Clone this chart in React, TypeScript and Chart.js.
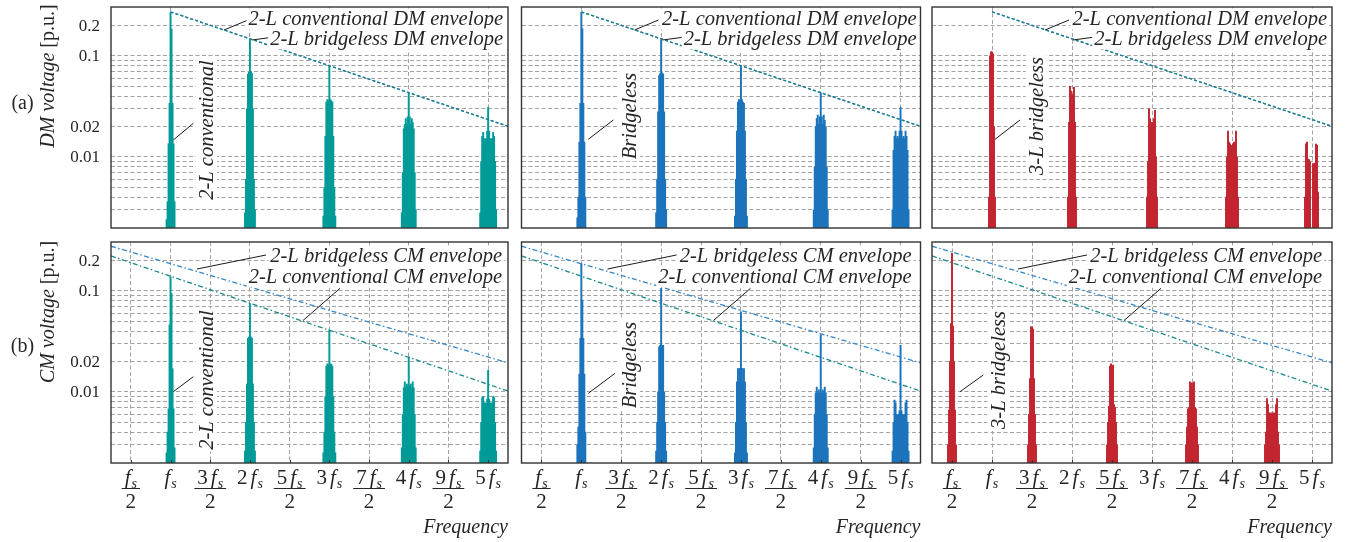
import React, { useEffect, useRef } from 'react';
import { Chart, registerables } from 'chart.js';

Chart.register(...registerables);

const PAGE_W = 1353;
const PAGE_H = 542;
const SERIF = '"Liberation Serif", "DejaVu Serif", serif';

// Frequency axis in multiples of the switching frequency fs
const FREQ_MIN = 0.25;
const FREQ_MAX = 5.25;
// spacing of neighbouring sideband lines inside one carrier cluster
const SIDEBAND_STEP = 0.0125;

// Voltage axis in p.u.
const VOLT_MIN = 0.00198;
const VOLT_MAX = 0.305;

const voltGridValues = [0.2, 0.1, 0.09, 0.08, 0.07, 0.06, 0.05, 0.04, 0.03, 0.02, 0.01, 0.009, 0.008, 0.007, 0.006, 0.005, 0.004, 0.003];
const voltTickValues = [0.2, 0.1, 0.02, 0.01];
const voltTickLabels = ['0.2', '0.1', '0.02', '0.01'];

const freqTickValues = [0.5, 1, 1.5, 2, 2.5, 3, 3.5, 4, 4.5, 5];
const freqTickCoefficients = ['', '', '3', '2', '5', '3', '7', '4', '9', '5'];
const freqTickDenominators = ['2', '', '2', '', '2', '', '2', '', '2', ''];
const dmGridFreqs = [1, 2, 3, 4, 5];

const carrierHarmonics = [1, 2, 3, 4, 5];
const carrierHalfHarmonics = [0.5, 1.5, 2.5, 3.5, 4.5];

// Each cluster lists its sideband amplitudes from low to high frequency around the carrier.
// DM voltage, 2-L conventional
const dmConventional1 = [0.0024, 0.0036, 0.0135, 0.034, 0.27, 0.185, 0.034, 0.0135, 0.0036];
const dmConventional2 = [0.0028, 0.006, 0.03, 0.066, 0.069, 0.145, 0.07, 0.067, 0.03, 0.006, 0.003];
const dmConventional3 = [0.0026, 0.005, 0.016, 0.035, 0.037, 0.036, 0.081, 0.037, 0.036, 0.035, 0.016, 0.005, 0.0026];
const dmConventional4 = [0.0028, 0.007, 0.019, 0.021, 0.024, 0.021, 0.025, 0.043, 0.025, 0.021, 0.024, 0.022, 0.019, 0.007, 0.003];
const dmConventional5 = [0.0028, 0.009, 0.016, 0.0175, 0.015, 0.0152, 0.015, 0.018, 0.031, 0.018, 0.015, 0.0152, 0.015, 0.0175, 0.016, 0.009, 0.003];

// DM voltage, 2-L bridgeless
const dmBridgeless1 = [0.0025, 0.004, 0.014, 0.034, 0.27, 0.187, 0.034, 0.014, 0.004];
const dmBridgeless2 = [0.0028, 0.006, 0.028, 0.064, 0.067, 0.145, 0.068, 0.066, 0.028, 0.006, 0.003];
const dmBridgeless3 = [0.0026, 0.006, 0.018, 0.035, 0.037, 0.036, 0.08, 0.037, 0.035, 0.034, 0.018, 0.006, 0.0026];
const dmBridgeless4 = [0.003, 0.008, 0.02, 0.024, 0.026, 0.021, 0.025, 0.043, 0.025, 0.021, 0.026, 0.023, 0.02, 0.008, 0.003];
const dmBridgeless5 = [0.003, 0.0116, 0.016, 0.018, 0.0152, 0.016, 0.0152, 0.018, 0.031, 0.018, 0.0152, 0.016, 0.0152, 0.018, 0.016, 0.0116, 0.003];

// DM voltage, 3-L bridgeless
const dmThreeLevel1 = [0.004, 0.1, 0.11, 0.11, 0.105, 0.02, 0.004];
const dmThreeLevel2 = [0.004, 0.022, 0.05, 0.045, 0.032, 0.042, 0.049, 0.022, 0.004];
const dmThreeLevel3 = [0.004, 0.009, 0.03, 0.024, 0.02, 0.022, 0.021, 0.024, 0.029, 0.01, 0.004];
const dmThreeLevel4 = [0.004, 0.01, 0.018, 0.014, 0.0135, 0.013, 0.012, 0.0135, 0.014, 0.0137, 0.018, 0.01, 0.004];
const dmThreeLevel5 = [0.004, 0.0135, 0.014, 0.0095, 0.0094, 0.009, null, null, 0.0086, 0.0085, 0.0087, 0.0134, 0.013, 0.0045, null];

// CM voltage, 2-L conventional
const cmConventional1 = [0.0025, 0.004, 0.0068, 0.046, 0.138, 0.094, 0.017, 0.0068, 0.0028];
const cmConventional2 = [0.0026, 0.005, 0.012, 0.034, 0.035, 0.075, 0.035, 0.034, 0.012, 0.005, 0.0026];
const cmConventional3 = [0.0025, 0.004, 0.009, 0.018, 0.019, 0.0185, 0.041, 0.019, 0.0188, 0.018, 0.009, 0.004, 0.0025];
const cmConventional4 = [0.0028, 0.006, 0.011, 0.0126, 0.011, 0.012, 0.0115, 0.0222, 0.0115, 0.012, 0.011, 0.0126, 0.011, 0.006, 0.0028];
const cmConventional5 = [0.0026, 0.005, 0.0088, 0.009, 0.0077, 0.0078, 0.0077, 0.0085, 0.0164, 0.0085, 0.0077, 0.0078, 0.0077, 0.009, 0.0088, 0.005, 0.0026];

// CM voltage, 2-L bridgeless
const cmBridgeless1 = [0.003, 0.0045, 0.015, 0.034, 0.187, 0.081, 0.034, 0.015, 0.004];
const cmBridgeless2 = [0.0026, 0.005, 0.01, 0.028, 0.029, 0.106, 0.029, 0.029, 0.01, 0.005, 0.0026];
const cmBridgeless3 = [0.0025, 0.005, 0.0126, 0.017, 0.0126, 0.0171, 0.062, 0.0171, 0.0126, 0.017, 0.0126, 0.005, 0.0025];
const cmBridgeless4 = [0.0028, 0.006, 0.0098, 0.0112, 0.0098, 0.0105, 0.0098, 0.0365, 0.0098, 0.0105, 0.0098, 0.0112, 0.0098, 0.006, 0.0028];
const cmBridgeless5 = [0.0026, 0.005, 0.0083, 0.0078, 0.006, 0.0059, 0.006, 0.0065, 0.029, 0.0065, 0.006, 0.0059, 0.006, 0.0078, 0.0083, 0.005, 0.0026];

// CM voltage, 3-L bridgeless (clusters sit at odd multiples of fs/2)
const cmThreeLevel1 = [0.003, 0.0066, 0.02, 0.0475, 0.235, 0.045, 0.02, 0.0066, 0.003];
const cmThreeLevel2 = [0.003, 0.006, 0.0136, 0.044, 0.044, 0.042, 0.0136, 0.006, 0.003];
const cmThreeLevel3 = [0.003, 0.005, 0.0072, 0.018, 0.019, 0.0172, 0.0185, 0.0075, 0.007, 0.005, 0.003];
const cmThreeLevel4 = [0.003, 0.0045, 0.0068, 0.007, 0.0126, 0.011, 0.0123, 0.0105, 0.0126, 0.007, 0.0068, 0.0045, 0.003];
const cmThreeLevel5 = [0.003, 0.004, 0.0086, 0.0075, 0.006, 0.0062, 0.0058, 0.0062, 0.0058, 0.0062, 0.006, 0.0075, 0.0086, 0.004, 0.003];

// Envelopes (straight lines on the log axis)
const dmEnvelopeFreq = [1, 5.25];
const dmEnvelopeConventional = [0.273, 0.0201];
const dmEnvelopeBridgeless = [0.273, 0.0201];
const cmEnvelopeFreq = [0.25, 5.25];
const cmEnvelopeBridgeless = [0.277, 0.0194];
const cmEnvelopeConventional = [0.222, 0.0102];

const TEAL = '#009b98';
const BLUE = '#1c74bc';
const RED = '#c2262f';
const DM_ENV_CONV = '#1b7f8c';
const DM_ENV_BL = '#2a7fc0';
const CM_ENV_CONV = '#17898a';
const CM_ENV_BL = '#3286c9';
const GRID = '#a2a2a2';
const FRAME = '#333333';
const INK = '#262626';

const COLS = [
  { left: 111, right: 508 },
  { left: 521.5, right: 920.5 },
  { left: 932, right: 1332 },
];
const ROWS = [
  { top: 7, bottom: 228 },
  { top: 242, bottom: 463 },
];

type Leader = [number, number, number, number];
type PanelSpec = {
  key: string;
  col: number;
  row: number;
  centres: number[];
  clusters: (number | null)[][];
  color: string;
  seriesName: string;
  rotatedLabel: string;
  rotatedAt: [number, number];
  rotatedLeader: Leader;
  labelRight: number;
};

const panels: PanelSpec[] = [
  {
    key: 'dm-conv', col: 0, row: 0, centres: carrierHarmonics,
    clusters: [dmConventional1, dmConventional2, dmConventional3, dmConventional4, dmConventional5],
    color: TEAL, seriesName: '2-L conventional', rotatedLabel: '2-L conventional',
    rotatedAt: [96, 123], rotatedLeader: [62.3, 133, 82.3, 116.3], labelRight: -5,
  },
  {
    key: 'dm-bl', col: 1, row: 0, centres: carrierHarmonics,
    clusters: [dmBridgeless1, dmBridgeless2, dmBridgeless3, dmBridgeless4, dmBridgeless5],
    color: BLUE, seriesName: 'Bridgeless', rotatedLabel: 'Bridgeless',
    rotatedAt: [108.5, 109], rotatedLeader: [66.8, 132.3, 91.8, 113], labelRight: -4,
  },
  {
    key: 'dm-3l', col: 2, row: 0, centres: carrierHarmonics,
    clusters: [dmThreeLevel1, dmThreeLevel2, dmThreeLevel3, dmThreeLevel4, dmThreeLevel5],
    color: RED, seriesName: '3-L bridgeless', rotatedLabel: '3-L bridgeless',
    rotatedAt: [104.7, 109], rotatedLeader: [63, 132.3, 88, 113], labelRight: -5,
  },
  {
    key: 'cm-conv', col: 0, row: 1, centres: carrierHarmonics,
    clusters: [cmConventional1, cmConventional2, cmConventional3, cmConventional4, cmConventional5],
    color: TEAL, seriesName: '2-L conventional', rotatedLabel: '2-L conventional',
    rotatedAt: [96, 138], rotatedLeader: [62.3, 149.7, 82.3, 134.7], labelRight: -6,
  },
  {
    key: 'cm-bl', col: 1, row: 1, centres: carrierHarmonics,
    clusters: [cmBridgeless1, cmBridgeless2, cmBridgeless3, cmBridgeless4, cmBridgeless5],
    color: BLUE, seriesName: 'Bridgeless', rotatedLabel: 'Bridgeless',
    rotatedAt: [108.5, 123], rotatedLeader: [66.8, 151.3, 93.5, 131.3], labelRight: -9,
  },
  {
    key: 'cm-3l', col: 2, row: 1, centres: carrierHalfHarmonics,
    clusters: [cmThreeLevel1, cmThreeLevel2, cmThreeLevel3, cmThreeLevel4, cmThreeLevel5],
    color: RED, seriesName: '3-L bridgeless', rotatedLabel: '3-L bridgeless',
    rotatedAt: [66.3, 128], rotatedLeader: [28, 149.7, 51.3, 133], labelRight: -10,
  },
];

// Envelope captions per row: text and baseline below the plot top; leader lines relative to the plot corner
const envelopeCaptions = [
  [
    { text: '2-L conventional DM envelope', dy: 17.5 },
    { text: '2-L bridgeless DM envelope', dy: 37.5 },
  ],
  [
    { text: '2-L bridgeless CM envelope', dy: 19.5 },
    { text: '2-L conventional CM envelope', dy: 40.5 },
  ],
];
const envelopeLeaders: Leader[][] = [
  [[113, 23, 137, 13], [141, 33, 161, 30.3]],
  [[86, 27, 155, 13], [192, 78.5, 229, 46.3]],
];
const axisTitles = ['DM voltage', 'CM voltage'];
const rowTags = ['(a)', '(b)'];
const axisTitleDy = [69, 70];
const rowTagDy = [97, 105];

const font = (size: number, italic = false) => `${italic ? 'italic ' : ''}${size}px ${SERIF}`;

function clusterPoints(centre: number, values: (number | null)[]) {
  const half = (values.length - 1) / 2;
  return values
    .map((v, i) => ({ x: centre + (i - half) * SIDEBAND_STEP, y: v }))
    .filter((p) => p.y !== null);
}

function zip(xs: number[], ys: number[]) {
  return xs.map((x, i) => ({ x, y: ys[i] }));
}

function textWithBackground(ctx: CanvasRenderingContext2D, text: string, x: number, y: number, align: 'left' | 'right' | 'center', size: number, italic: boolean) {
  ctx.font = font(size, italic);
  const w = ctx.measureText(text).width;
  const x0 = align === 'right' ? x - w : align === 'center' ? x - w / 2 : x;
  ctx.fillStyle = '#ffffff';
  ctx.fillRect(x0 - 2, y - size * 0.78, w + 4, size * 1.02);
  ctx.fillStyle = INK;
  ctx.textAlign = 'left';
  ctx.textBaseline = 'alphabetic';
  ctx.fillText(text, x0, y);
}

function strokeLine(ctx: CanvasRenderingContext2D, x1: number, y1: number, x2: number, y2: number) {
  ctx.beginPath();
  ctx.moveTo(x1, y1);
  ctx.lineTo(x2, y2);
  ctx.stroke();
}

// draws "<coef> f_s" centred at cx; returns its width
function freqTermWidth(ctx: CanvasRenderingContext2D, coef: string, big: number, small: number) {
  ctx.font = font(big);
  const wc = coef ? ctx.measureText(coef).width + 3 : 0;
  ctx.font = font(big, true);
  const wf = ctx.measureText('f').width;
  ctx.font = font(small, true);
  const ws = ctx.measureText('s').width;
  return { wc, wf, ws, total: wc + wf + 1 + ws };
}

function drawFreqTerm(ctx: CanvasRenderingContext2D, coef: string, cx: number, baseline: number) {
  const big = 21;
  const small = 14;
  const m = freqTermWidth(ctx, coef, big, small);
  let x = cx - m.total / 2;
  ctx.fillStyle = INK;
  ctx.textAlign = 'left';
  ctx.textBaseline = 'alphabetic';
  if (coef) {
    ctx.font = font(big);
    ctx.fillText(coef, x, baseline);
    x += m.wc;
  }
  ctx.font = font(big, true);
  ctx.fillText('f', x, baseline);
  x += m.wf + 1;
  ctx.font = font(small, true);
  ctx.fillText('s', x, baseline + 4);
  return m.total;
}

function makeDecor(p: PanelSpec) {
  return {
    id: 'decor-' + p.key,
    afterDraw(chart: any) {
      const ctx: CanvasRenderingContext2D = chart.ctx;
      const a = chart.chartArea;
      const xs = chart.scales.x;
      const ys = chart.scales.y;
      ctx.save();

      // inward ticks on the frequency axis
      if (p.row === 1) {
        ctx.strokeStyle = FRAME;
        ctx.lineWidth = 1;
        freqTickValues.forEach((v) => {
          const px = Math.round(xs.getPixelForValue(v)) + 0.5;
          strokeLine(ctx, px, a.bottom, px, a.bottom - 3);
        });
      }

      // envelope captions and leaders
      ctx.strokeStyle = '#1a1a1a';
      ctx.lineWidth = 1;
      envelopeLeaders[p.row].forEach(([x1, y1, x2, y2]) => strokeLine(ctx, a.left + x1, a.top + y1, a.left + x2, a.top + y2));
      envelopeCaptions[p.row].forEach((c) => textWithBackground(ctx, c.text, a.right + p.labelRight, a.top + c.dy, 'right', 20.5, true));

      // rotated series caption
      {
        const [rx, ry] = p.rotatedAt;
        ctx.save();
        ctx.translate(a.left + rx, a.top + ry);
        ctx.rotate(-Math.PI / 2);
        ctx.font = font(20.5, true);
        const w = ctx.measureText(p.rotatedLabel).width;
        ctx.fillStyle = '#ffffff';
        ctx.fillRect(-w / 2 - 2, -11, w + 4, 21);
        ctx.fillStyle = INK;
        ctx.textAlign = 'center';
        ctx.textBaseline = 'middle';
        ctx.fillText(p.rotatedLabel, 0, 1);
        ctx.restore();
        const [x1, y1, x2, y2] = p.rotatedLeader;
        ctx.strokeStyle = '#1a1a1a';
        ctx.lineWidth = 1;
        strokeLine(ctx, a.left + x1, a.top + y1, a.left + x2, a.top + y2);
      }

      // frame
      ctx.strokeStyle = FRAME;
      ctx.lineWidth = 1.4;
      ctx.strokeRect(a.left, a.top, a.right - a.left, a.bottom - a.top);

      // voltage axis labelling on the first column
      if (p.col === 0) {
        ctx.fillStyle = INK;
        ctx.font = font(17);
        ctx.textAlign = 'right';
        ctx.textBaseline = 'middle';
        voltTickValues.forEach((v, i) => ctx.fillText(voltTickLabels[i], a.left - 11, ys.getPixelForValue(v) + 1));

        const titleItalic = axisTitles[p.row] + ' ';
        const titleUnit = '[p.u.]';
        ctx.font = font(20, true);
        const w1 = ctx.measureText(titleItalic).width;
        ctx.font = font(20);
        const w2 = ctx.measureText(titleUnit).width;
        ctx.save();
        ctx.translate(a.left - 62, a.top + axisTitleDy[p.row]);
        ctx.rotate(-Math.PI / 2);
        ctx.textAlign = 'left';
        ctx.textBaseline = 'middle';
        ctx.font = font(20, true);
        ctx.fillText(titleItalic, -(w1 + w2) / 2, 0);
        ctx.font = font(20);
        ctx.fillText(titleUnit, -(w1 + w2) / 2 + w1, 0);
        ctx.restore();

        ctx.font = font(20);
        ctx.textAlign = 'center';
        ctx.textBaseline = 'middle';
        ctx.fillText(rowTags[p.row], a.left - 88.5, a.top + rowTagDy[p.row]);
      }

      // frequency axis labelling on the bottom row
      if (p.row === 1) {
        freqTickValues.forEach((v, i) => {
          const cx = xs.getPixelForValue(v);
          const width = drawFreqTerm(ctx, freqTickCoefficients[i], cx, a.bottom + 21);
          const den = freqTickDenominators[i];
          if (den) {
            ctx.strokeStyle = INK;
            ctx.lineWidth = 1;
            strokeLine(ctx, cx - width / 2 - 3, a.bottom + 25.5, cx + width / 2 + 3, a.bottom + 25.5);
            ctx.font = font(21);
            ctx.fillStyle = INK;
            ctx.textAlign = 'center';
            ctx.textBaseline = 'alphabetic';
            ctx.fillText(den, cx, a.bottom + 45);
          }
        });
        ctx.font = font(20, true);
        ctx.fillStyle = INK;
        ctx.textAlign = 'right';
        ctx.textBaseline = 'alphabetic';
        ctx.fillText('Frequency', a.right, a.bottom + 70);
      }

      ctx.restore();
    },
  };
}

function buildConfig(p: PanelSpec): any {
  const col = COLS[p.col];
  const row = ROWS[p.row];
  const bars = p.clusters.map((values, k) => ({
    type: 'bar',
    label: `${p.seriesName} ${p.centres[k]} fs`,
    data: clusterPoints(p.centres[k], values),
    backgroundColor: p.color,
    borderWidth: 0,
    barThickness: 1.3,
    grouped: false,
    order: 2,
  }));
  const dashDot = [5, 2.5, 1.5, 2.5];
  const lines = p.row === 0
    ? [
        { label: '2-L bridgeless DM envelope', data: zip(dmEnvelopeFreq, dmEnvelopeBridgeless), color: DM_ENV_BL, dash: [3, 2.2], order: 1 },
        { label: '2-L conventional DM envelope', data: zip(dmEnvelopeFreq, dmEnvelopeConventional), color: DM_ENV_CONV, dash: [3, 2.2], order: 0 },
      ]
    : [
        { label: '2-L bridgeless CM envelope', data: zip(cmEnvelopeFreq, cmEnvelopeBridgeless), color: CM_ENV_BL, dash: dashDot, order: 0 },
        { label: '2-L conventional CM envelope', data: zip(cmEnvelopeFreq, cmEnvelopeConventional), color: CM_ENV_CONV, dash: dashDot, order: 1 },
      ];
  const lineSets = lines.map((l) => ({
    type: 'line',
    label: l.label,
    data: l.data,
    borderColor: l.color,
    borderWidth: 1.3,
    borderDash: l.dash,
    pointRadius: 0,
    fill: false,
    tension: 0,
    order: l.order,
  }));
  const gridFreqs = p.row === 0 ? dmGridFreqs : freqTickValues;

  return {
    type: 'bar',
    data: { datasets: [...lineSets, ...bars] },
    options: {
      animation: false,
      responsive: false,
      maintainAspectRatio: false,
      events: [],
      layout: {
        padding: { left: col.left, right: PAGE_W - col.right, top: row.top, bottom: PAGE_H - row.bottom },
      },
      plugins: { legend: { display: false }, tooltip: { enabled: false } },
      scales: {
        x: {
          type: 'linear',
          min: FREQ_MIN,
          max: FREQ_MAX,
          offset: false,
          ticks: { display: false },
          grid: { offset: false, drawTicks: false, color: GRID, lineWidth: 1 },
          border: { display: false, dash: [4, 2.5] },
          afterBuildTicks: (s: any) => { s.ticks = gridFreqs.map((v) => ({ value: v })); },
          afterFit: (s: any) => { s.height = 0; },
        },
        y: {
          type: 'logarithmic',
          min: VOLT_MIN,
          max: VOLT_MAX,
          ticks: { display: false },
          grid: { drawTicks: false, color: GRID, lineWidth: 1 },
          border: { display: false, dash: [4, 2.5] },
          afterBuildTicks: (s: any) => { s.ticks = voltGridValues.map((v) => ({ value: v })); },
          afterFit: (s: any) => { s.width = 0; },
        },
      },
    },
    plugins: [makeDecor(p)],
  };
}

function SpectrumPanel({ spec }: { spec: PanelSpec }) {
  const ref = useRef<HTMLCanvasElement>(null);
  useEffect(() => {
    if (!ref.current) return;
    const chart = new Chart(ref.current, buildConfig(spec));
    return () => chart.destroy();
  }, [spec]);
  return (
    <canvas
      ref={ref}
      width={PAGE_W}
      height={PAGE_H}
      style={{ position: 'absolute', left: 0, top: 0, width: PAGE_W, height: PAGE_H }}
    />
  );
}

export default function App() {
  return (
    <div style={{ position: 'absolute', left: 0, top: 0, width: PAGE_W, height: PAGE_H, background: '#ffffff', overflow: 'hidden' }}>
      {panels.map((p) => (
        <SpectrumPanel key={p.key} spec={p} />
      ))}
    </div>
  );
}
